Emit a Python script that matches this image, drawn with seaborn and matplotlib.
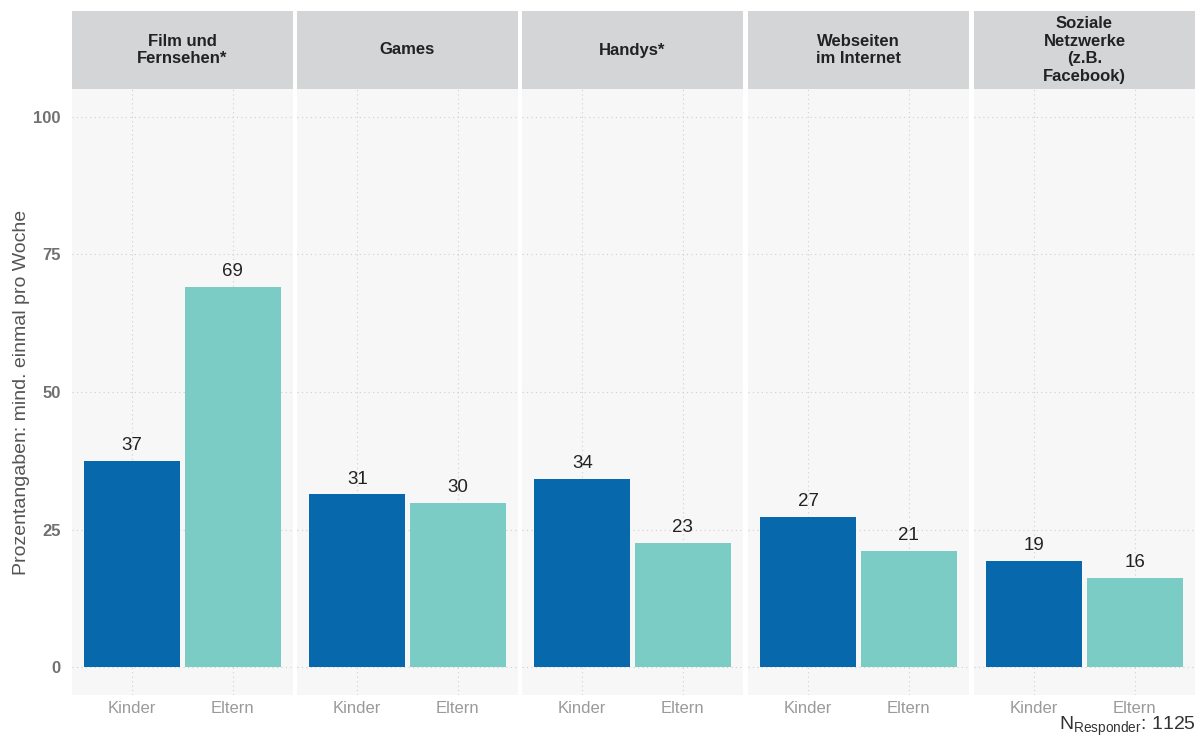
import pandas as pd
import seaborn as sns
import matplotlib.pyplot as plt

sns.set_style('white')
plt.rcParams['font.family'] = ['Liberation Sans', 'DejaVu Sans']
plt.rcParams['mathtext.fontset'] = 'custom'
plt.rcParams['mathtext.rm'] = 'Liberation Sans'

themen = ['Film und\nFernsehen*', 'Games', 'Handys*', 'Webseiten\nim Internet',
          'Soziale\nNetzwerke\n(z.B.\nFacebook)']
gruppen = ['Kinder', 'Eltern']
kinder = [37.4, 31.4, 34.2, 27.4, 19.3]
eltern = [69.1, 29.8, 22.6, 21.1, 16.2]
farben = {'Kinder': '#0868AC', 'Eltern': '#7BCCC4'}

rows = []
for t, k, e in zip(themen, kinder, eltern):
    rows.append({'thema': t, 'gruppe': 'Kinder', 'wert': k})
    rows.append({'thema': t, 'gruppe': 'Eltern', 'wert': e})
df = pd.DataFrame(rows)

W, H = 1203, 738
fig = plt.figure(figsize=(W / 100, H / 100), dpi=100)
x0s = [72, 297, 522, 748, 974]
pw = 221

for i, t in enumerate(themen):
    ax = fig.add_axes([x0s[i] / W, 1 - 695 / H, pw / W, 606 / H])
    sub = df[df.thema == t]
    sns.barplot(data=sub, x='gruppe', y='wert', hue='gruppe', palette=farben,
                order=gruppen, width=0.96, legend=False, ax=ax, saturation=1,
                linewidth=0)
    ax.set_facecolor('#F7F7F7')
    ax.set_xlim(-0.6, 1.6)
    ax.set_ylim(-5, 105)
    ax.set_yticks([0, 25, 50, 75, 100])
    ax.grid(True, linestyle=(0, (1, 3)), color='#CFCFCF', linewidth=0.8)
    ax.set_axisbelow(True)
    for s in ax.spines.values():
        s.set_visible(False)
    ax.tick_params(length=0)
    ax.tick_params(axis='x', colors='#9A9A9A', labelsize=12, pad=4)
    ax.set_xlabel('')
    ax.set_ylabel('')
    if i == 0:
        ax.tick_params(axis='y', colors='#707070', labelsize=12, pad=8)
        for lb in ax.get_yticklabels():
            lb.set_fontweight('bold')
    else:
        ax.set_yticklabels([])
    for c in ax.containers:
        for bar in c:
            h = bar.get_height()
            ax.annotate(f'{h:.0f}', (bar.get_x() + bar.get_width() / 2, h),
                        xytext=(0, 5), textcoords='offset points',
                        ha='center', va='bottom', fontsize=13.5, color='#222222')
    # strip
    sx = fig.add_axes([x0s[i] / W, 1 - 89 / H, pw / W, 78 / H])
    sx.set_facecolor('#D4D5D7')
    sx.set_xticks([])
    sx.set_yticks([])
    for s in sx.spines.values():
        s.set_visible(False)
    sx.text(0.5, 0.5, t, ha='center', va='center', fontsize=12,
            fontweight='bold', color='#222222', linespacing=1.2,
            transform=sx.transAxes)

fig.text(22 / W, 1 - 392 / H, 'Prozentangaben: mind. einmal pro Woche',
         rotation=90, ha='center', va='center', fontsize=14, color='#555555')
fig.text(1196 / W, 1 - 730 / H, r'N$_{\mathrm{Responder}}$: 1125',
         ha='right', va='baseline', fontsize=14, color='#333333')

fig.savefig('out.png', dpi=100)
